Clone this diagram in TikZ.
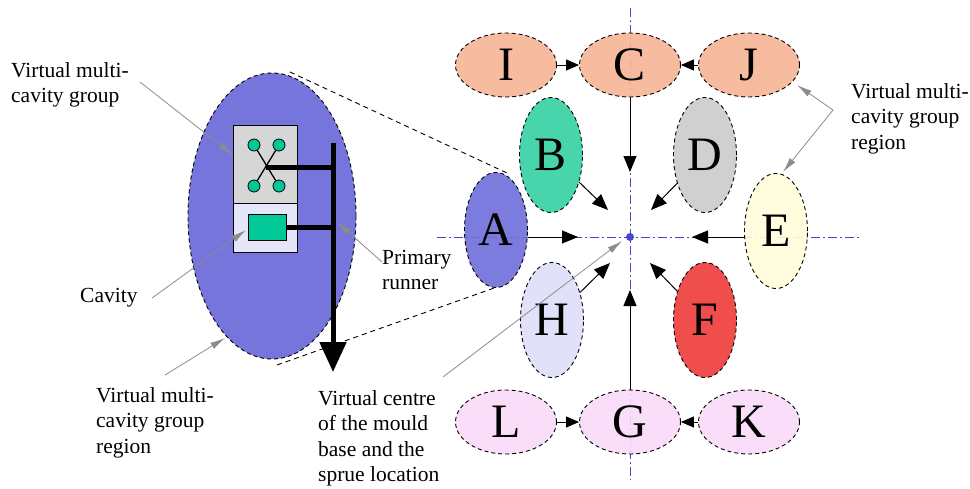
\documentclass[tikz,border=0pt]{standalone}
\usepackage{fontspec}
\setmainfont{Liberation Serif}
\usetikzlibrary{shapes.geometric,arrows.meta}

\definecolor{salmon}{HTML}{F6B496}
\definecolor{seagreen}{HTML}{34D0A2}
\definecolor{stone}{HTML}{CBCBCB}
\definecolor{regionblue}{HTML}{6E6EDA}
\definecolor{cream}{HTML}{FFFDDA}
\definecolor{lilac}{HTML}{DEDEF8}
\definecolor{scarlet}{HTML}{EE3A3A}
\definecolor{blush}{HTML}{FADAF8}
\definecolor{axisblue}{HTML}{4646D2}
\definecolor{pointer}{HTML}{8C8C8C}
\definecolor{jade}{HTML}{00C896}
\definecolor{groupgrey}{HTML}{D6D6D6}
\definecolor{cellbg}{HTML}{E6E6FA}

\tikzset{
  region/.style={ellipse, draw=black, dash pattern=on 4pt off 3pt, line width=0.9pt,
    inner sep=0pt, fill opacity=0.9, text opacity=1,
    font=\fontsize{48}{48}\selectfont},
  wide/.style={region, minimum width=101pt, minimum height=64pt},
  tall/.style={region, minimum width=63pt, minimum height=115pt},
  flow/.style={-{Triangle[length=16pt,width=13pt]}, line width=1pt, black},
  feed/.style={-{Triangle[length=13pt,width=11pt]}, line width=1pt, black},
  axis/.style={axisblue, line width=1pt, dash pattern=on 9pt off 3pt on 2pt off 3pt},
  callout/.style={pointer, line width=0.8pt, -{Latex[length=15pt,width=7pt]}},
  note/.style={align=left, anchor=north west, inner sep=0pt,
    font=\fontsize{21.5}{25.5}\selectfont},
  runner/.style={line width=5pt, black},
}

\begin{document}
\begin{tikzpicture}[x=1pt, y=-1pt]
\useasboundingbox (0,0) rectangle (970,488);

% centre lines of the mould base
\coordinate (axT) at (630,8);
\coordinate (axB) at (630,480);
\coordinate (axL) at (437,237);
\coordinate (axR) at (860,237);
\draw[axis] (axT) -- (axB);
\draw[axis] (axL) -- (axR);

% ---- left: one virtual multi-cavity group region in detail ----
\node[ellipse, draw=black, dash pattern=on 4pt off 3pt, line width=0.9pt,
      fill=regionblue!95!white, minimum width=168pt, minimum height=286pt, inner sep=0pt]
      (big) at (272,216) {};

% tangent lines from the detail view to region A
\coordinate (tan1a) at (290,72);
\coordinate (tan1b) at (507,173);
\coordinate (tan2a) at (277,365);
\coordinate (tan2b) at (497,287);
\draw[black, line width=0.9pt, dash pattern=on 5pt off 4pt] (tan1a) -- (tan1b);
\draw[black, line width=0.9pt, dash pattern=on 5pt off 4pt] (tan2a) -- (tan2b);

% group box and cavity box
\node[draw=black, line width=0.8pt, fill=groupgrey, minimum width=64pt,
      minimum height=78pt, inner sep=0pt, anchor=north west] (grp) at (233,125) {};
\node[draw=black, line width=0.8pt, fill=cellbg, minimum width=64pt,
      minimum height=49pt, inner sep=0pt, anchor=north west] (cell) at (233,203) {};

% four small cavities with their crossing runners
\coordinate (hub) at (266,167);
\node[circle, draw=black, line width=0.8pt, fill=jade, minimum size=12pt, inner sep=0pt] (c1) at (254,145) {};
\node[circle, draw=black, line width=0.8pt, fill=jade, minimum size=12pt, inner sep=0pt] (c2) at (279,145) {};
\node[circle, draw=black, line width=0.8pt, fill=jade, minimum size=12pt, inner sep=0pt] (c3) at (254,186) {};
\node[circle, draw=black, line width=0.8pt, fill=jade, minimum size=12pt, inner sep=0pt] (c4) at (279,186) {};
\draw[black, line width=1.3pt] (c1) -- (c4);
\draw[black, line width=1.3pt] (c2) -- (c3);

% single large cavity
\node[draw=black, line width=0.8pt, fill=jade, minimum width=38pt, minimum height=26pt,
      inner sep=0pt] (cav) at (267,227) {};

% primary runner
\coordinate (rTop) at (333,143);
\coordinate (rTip) at (333,372);
\coordinate (rJ1) at (333,167);
\coordinate (rJ2) at (333,227);
\draw[runner, -{Triangle[length=30pt,width=26pt]}] (rTop) -- (rTip);
\draw[runner] (hub) -- (rJ1);
\draw[runner] (cav.east) -- (rJ2);

% ---- right: layout of the regions round the sprue ----
\node[wide, fill=salmon] (I) at (506,65) {I};
\node[wide, fill=salmon] (C) at (630,65) {C};
\node[wide, fill=salmon] (J) at (749,65) {J};
\node[tall, fill=seagreen] (B) at (551,155) {B};
\node[tall, fill=stone]  (D) at (705,155) {D};
\node[tall, fill=regionblue] (A) at (496,230) {A};
\node[tall, fill=cream]  (E) at (776,231) {E};
\node[tall, fill=lilac]  (H) at (552,320) {H};
\node[tall, fill=scarlet](F) at (705,320) {F};
\node[wide, fill=blush]  (L) at (506,422) {L};
\node[wide, fill=blush]  (G) at (630,422) {G};
\node[wide, fill=blush]  (K) at (749,422) {K};

% sprue location
\node[circle, fill=axisblue, minimum size=8pt, inner sep=0pt] (sprue) at (630,237) {};

% flow towards the sprue
\coordinate (tC) at (630,172);
\coordinate (tG) at (630,290);
\coordinate (tA) at (578,237);
\coordinate (tE) at (692,237);
\coordinate (tB) at (608,210);
\coordinate (tD) at (651,210);
\coordinate (tH) at (610,263);
\coordinate (tF) at (650,263);
\draw[flow] (C) -- (tC);
\draw[flow] (G) -- (tG);
\draw[flow] (A.east |- tA) -- (tA);
\draw[flow] (E.west |- tE) -- (tE);
\draw[flow] (B) -- (tB);
\draw[flow] (D) -- (tD);
\draw[flow] (H) -- (tH);
\draw[flow] (F) -- (tF);

\draw[feed] (I) -- (C);
\draw[feed] (J) -- (C);
\draw[feed] (L) -- (G);
\draw[feed] (K) -- (G);

% ---- labels and their pointers ----
\node[note] (lblGroup) at (11,62) {Virtual multi-\\cavity group};
\coordinate (pGroupS) at (140,82);
\coordinate (pGroupT) at (233,155);
\draw[callout] (pGroupS) -- (pGroupT);

\node[note] (lblCavity) at (80,288) {Cavity};
\coordinate (pCavS) at (152,298);
\coordinate (pCavT) at (246,230);
\draw[callout] (pCavS) -- (pCavT);

\node[note] (lblRegionL) at (96,387) {Virtual multi-\\cavity group\\region};
\coordinate (pRegS) at (165,375);
\coordinate (pRegT) at (225,338);
\draw[callout] (pRegS) -- (pRegT);

\node[note] (lblRunner) at (382,250) {Primary\\runner};
\coordinate (pRunS) at (382,262);
\coordinate (pRunT) at (337,222);
\draw[callout] (pRunS) -- (pRunT);

\node[note] (lblCentre) at (318,390) {Virtual centre\\of the mould\\base and the\\sprue location};
\coordinate (pCenS) at (443,377);
\coordinate (pCenT) at (622,241);
\draw[callout] (pCenS) -- (pCenT);

\node[note] (lblRegionR) at (851,83) {Virtual multi-\\cavity group\\region};
\coordinate (pBend) at (833,110);
\coordinate (pJT) at (797,85);
\coordinate (pET) at (783,172);
\draw[callout] (pBend) -- (pJT);
\draw[callout] (pBend) -- (pET);
\end{tikzpicture}
\end{document}
